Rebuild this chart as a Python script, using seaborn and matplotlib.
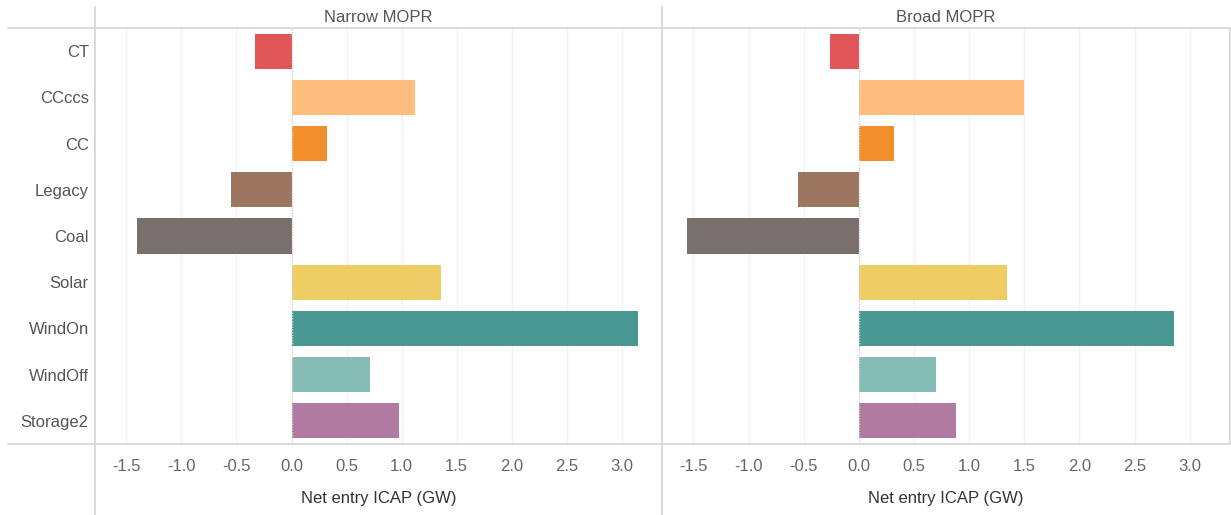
import matplotlib
matplotlib.use("Agg")
import matplotlib.pyplot as plt
from matplotlib.lines import Line2D
import seaborn as sns
import pandas as pd

categories = ["CT", "CCccs", "CC", "Legacy", "Coal", "Solar", "WindOn", "WindOff", "Storage2"]
narrow_values = [-0.33, 1.12, 0.32, -0.55, -1.40, 1.36, 3.15, 0.71, 0.98]
broad_values = [-0.26, 1.50, 0.32, -0.55, -1.56, 1.34, 2.86, 0.70, 0.88]
panel_titles = ["Narrow MOPR", "Broad MOPR"]
colors = ["#E15759", "#FFBE7D", "#F28E2B", "#9D7660", "#79706E", "#EFCD65", "#499894", "#86BCB6", "#B07AA1"]
x_ticks = [-1.5, -1.0, -0.5, 0.0, 0.5, 1.0, 1.5, 2.0, 2.5, 3.0]
x_label = "Net entry ICAP (GW)"

sns.set_theme(style="white")
plt.rcParams["font.family"] = ["Liberation Sans", "DejaVu Sans"]

W, H = 1231, 515
fig = plt.figure(figsize=(W / 100, H / 100), dpi=100)

def fx(px):
    return px / W

def fy(py):
    return 1 - py / H

panels = [(95, 662), (662, 1230)]
top_px, bot_px = 28, 444
palette = dict(zip(categories, colors))
fs = 12

for i, (vals, title) in enumerate(zip([narrow_values, broad_values], panel_titles)):
    l, r = panels[i]
    ax = fig.add_axes([fx(l), fy(bot_px), fx(r - l), (bot_px - top_px) / H])
    df = pd.DataFrame({"cat": categories, "val": vals})
    sns.barplot(data=df, y="cat", x="val", hue="cat", palette=palette, order=categories,
                hue_order=categories, orient="h", width=0.76, legend=False, ax=ax,
                saturation=1, linewidth=0)
    ax.set_xlim(-1.785, 3.365)
    ax.set_ylim(len(categories) - 0.5, -0.5)
    ax.set_xticks(x_ticks)
    ax.set_xticklabels([f"{t:.1f}" for t in x_ticks], color="#666666", fontsize=fs)
    ax.tick_params(axis="x", length=0, pad=11)
    for t in x_ticks:
        if t != 0:
            ax.axvline(t, color="#F0F0F0", lw=1, zorder=0)
    ax.axvline(0, color="#D0D0D0", lw=1, ls=(0, (1, 1)), zorder=3)
    ax.set_xlabel(x_label, fontsize=fs, color="#333333", labelpad=12)
    ax.set_ylabel("")
    if i == 0:
        ax.tick_params(axis="y", length=0, pad=4.5)
        ax.set_yticks(range(len(categories)))
        ax.set_yticklabels(categories, color="#555555", fontsize=fs)
    else:
        ax.set_yticks([])
    for s in ax.spines.values():
        s.set_visible(False)
    fig.text(fx((l + r) / 2), fy(18), title, ha="center", va="center", fontsize=fs, color="#555555")

line_color = "#D4D4D4"
fig.add_artist(Line2D([fx(8), fx(1230)], [fy(28), fy(28)], color=line_color, lw=1.2))
fig.add_artist(Line2D([fx(8), fx(1230)], [fy(444), fy(444)], color=line_color, lw=1.2))
for xp in [95, 662]:
    fig.add_artist(Line2D([fx(xp), fx(xp)], [fy(7), fy(515)], color=line_color, lw=1.2))
fig.add_artist(Line2D([fx(1229.5), fx(1229.5)], [fy(28), fy(444)], color=line_color, lw=1.2))

fig.savefig("out.png", dpi=100)
